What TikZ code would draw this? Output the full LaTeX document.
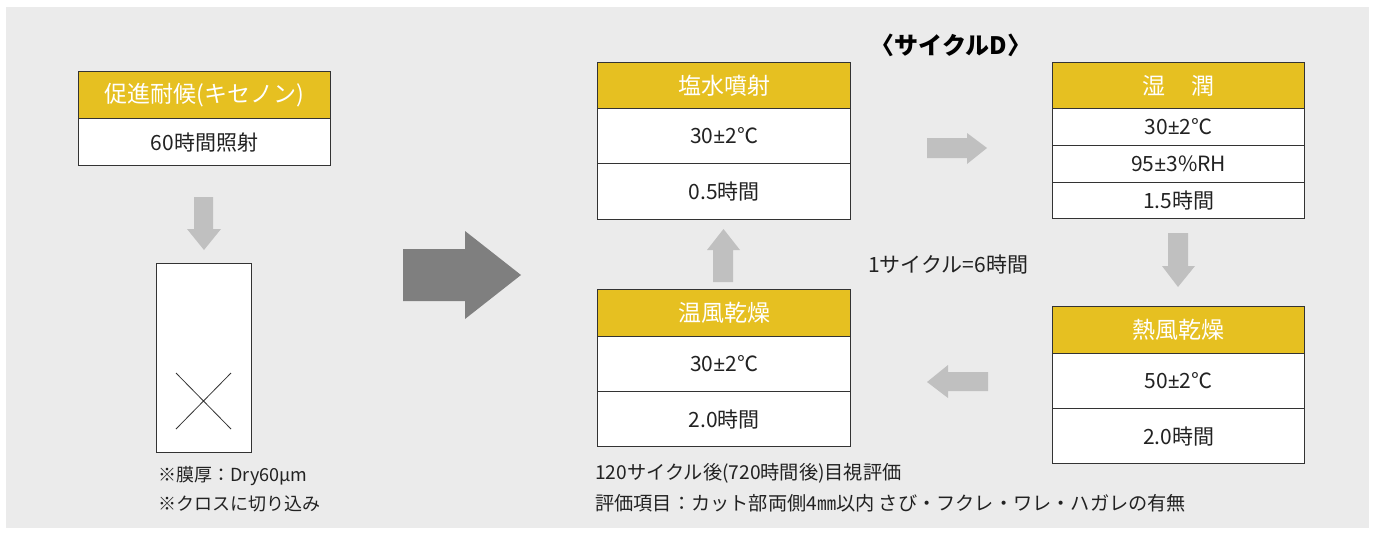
\documentclass[tikz,border=0pt]{standalone}
\usepackage{fontspec}
\setmainfont{Noto Sans CJK JP}
\newfontfamily\latinpm{Noto Sans}
\newcommand{\pmx}{{\latinpm ±}}
\definecolor{bg}{HTML}{EBEBEB}
\definecolor{yel}{HTML}{E6C021}
\definecolor{bord}{HTML}{333333}
\definecolor{txt}{HTML}{222222}
\definecolor{arrl}{HTML}{C0C0C0}
\definecolor{arrd}{HTML}{7F7F7F}
\begin{document}
\begin{tikzpicture}[x=1pt,y=-1pt,
  hdr/.style={draw=bord, fill=yel, text=white, line width=1.2pt, inner sep=0pt,
    minimum width=252pt, anchor=north west, font=\fontsize{23}{23}\selectfont},
  cell/.style={draw=bord, fill=white, text=txt, line width=1.2pt, inner sep=0pt,
    minimum width=252pt, anchor=north west, font=\fontsize{21}{21}\selectfont},
  note/.style={text=txt, inner sep=0pt, anchor=west, font=\fontsize{18}{18}\selectfont},
  lightarrow/.style={fill=arrl},
  bigarrow/.style={fill=arrd}]
\useasboundingbox (0,0) rectangle (1375,533);
\fill[bg] (6,7) rectangle (1369,528);

% left: promoted weathering
\node[hdr, minimum height=47pt] (xh) at (78,71) {促進耐候(キセノン)};
\node[cell, minimum height=47pt] (xb) at (78,118) {60時間照射};

\fill[lightarrow] (194,197) -- (213,197) -- (213,229) -- (221,229) -- (204,250) -- (187,229) -- (194,229) -- cycle;

% specimen
\node[draw=bord, fill=white, line width=1pt, inner sep=0pt, minimum width=95pt, minimum height=189pt, anchor=north west] (spec) at (156,263) {};
\coordinate (c1) at (176,373);
\coordinate (c2) at (231,429);
\coordinate (c3) at (231,373);
\coordinate (c4) at (176,429);
\draw[bord, line width=0.8pt] (c1) -- (c2) (c3) -- (c4);
\node[note] (n1) at (158,476) {※膜厚：Dry60µm};
\node[note] (n2) at (158,504) {※クロスに切り込み};

% big arrow
\fill[bigarrow] (403,249) -- (465,249) -- (465,231) -- (521,275) -- (465,319) -- (465,301) -- (403,301) -- cycle;

% title
\node[text=black, inner sep=0pt, font=\fontsize{24}{24}\selectfont\bfseries] (title) at (951,45) {〈サイクルD〉};

% salt spray
\node[hdr, minimum width=253pt, minimum height=46pt] (sh) at (597,62) {塩水噴射};
\node[cell, minimum width=253pt, minimum height=55pt] (s1) at (597,108) {30\pmx 2℃};
\node[cell, minimum width=253pt, minimum height=56pt] (s2) at (597,163) {0.5時間};

% wet
\node[hdr, minimum height=46pt] (wh) at (1052,62) {湿\hspace{1.1em}潤};
\node[cell, minimum height=37pt] (w1) at (1052,108) {30\pmx 2℃};
\node[cell, minimum height=37pt] (w2) at (1052,145) {95\pmx 3\%RH};
\node[cell, minimum height=36pt] (w3) at (1052,182) {1.5時間};

% hot air dry
\node[hdr, minimum height=47pt] (hh) at (1052,306) {熱風乾燥};
\node[cell, minimum height=55pt] (h1) at (1052,353) {50\pmx 2℃};
\node[cell, minimum height=55pt] (h2) at (1052,408) {2.0時間};

% warm air dry
\node[hdr, minimum width=253pt, minimum height=47pt] (ah) at (597,289) {温風乾燥};
\node[cell, minimum width=253pt, minimum height=55pt] (a1) at (597,336) {30\pmx 2℃};
\node[cell, minimum width=253pt, minimum height=55pt] (a2) at (597,391) {2.0時間};

% cycle arrows
\fill[lightarrow] (927,138) -- (967,138) -- (967,133) -- (987,148) -- (967,164) -- (967,158) -- (927,158) -- cycle;
\fill[lightarrow] (1168,233) -- (1188,233) -- (1188,266) -- (1195,266) -- (1178,287) -- (1162,266) -- (1168,266) -- cycle;
\fill[lightarrow] (988,372) -- (948,372) -- (948,365) -- (927,382) -- (948,398) -- (948,391) -- (988,391) -- cycle;
\fill[lightarrow] (713,282) -- (713,250) -- (707,250) -- (723.5,229) -- (740,250) -- (733,250) -- (733,282) -- cycle;

\node[note, font=\fontsize{21}{21}\selectfont] (cyc) at (868,265) {1サイクル=6時間};

% bottom notes
\node[note, font=\fontsize{19.2}{19.2}\selectfont] (b1) at (595,473) {120サイクル後(720時間後)目視評価};
\node[note, font=\fontsize{19.2}{19.2}\selectfont] (b2) at (595,503) {評価項目：カット部両側4㎜以内 さび・フクレ・ワレ・ハガレの有無};
\end{tikzpicture}
\end{document}
